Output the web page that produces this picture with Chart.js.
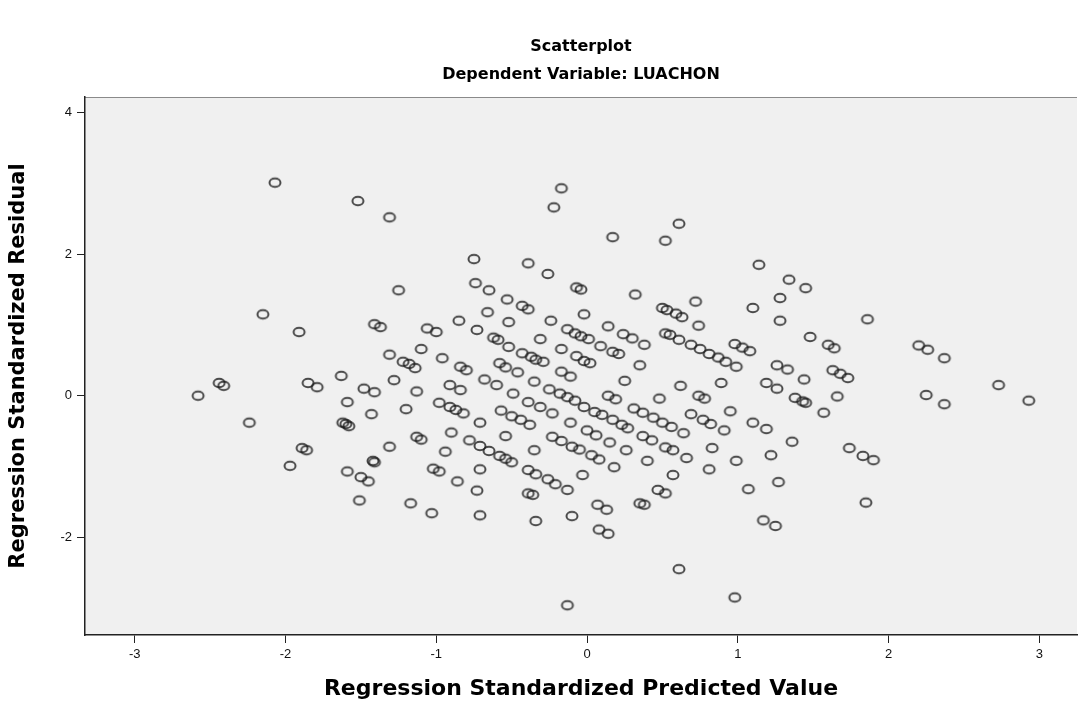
<!DOCTYPE html>
<html><head><meta charset="utf-8">
<script src="https://cdn.jsdelivr.net/npm/chart.js@4.4.1/dist/chart.umd.min.js"></script>
<style>html,body{margin:0;padding:0;background:#fff;}#c{display:block;}</style>
</head><body>
<canvas id="c" width="1083" height="702"></canvas>
<script>
const predicted = [
-2.07,-1.52,-1.31,-1.25,-2.15,-1.91,-1.41,-1.37,-1.31,-1.22,-1.18,-1.14,-1.10,-2.44,-2.41,-2.58,-2.24,-1.85,-1.79,-1.63,
-1.48,-1.41,-1.28,-1.13,-1.59,-1.20,-1.43,-1.62,-1.60,-1.58,-1.13,-1.10,-1.89,-1.86,-1.97,-1.31,-1.42,-1.41,-1.59,-1.50,
-1.45,-1.51,-1.17,-1.06,-1.00,-0.17,-0.22,0.17,0.61,0.52,-0.75,-0.39,-0.26,-0.74,-0.65,-0.07,-0.04,0.32,0.72,-0.53,
-0.43,-0.39,-0.66,-0.02,0.50,0.53,0.59,0.63,-0.85,-0.52,-0.24,0.74,-0.73,-0.13,-0.08,-0.04,0.01,0.14,0.24,0.30,
0.38,0.52,0.55,0.61,0.69,0.75,0.81,0.87,0.92,0.99,0.98,1.03,1.08,-0.62,-0.59,-0.52,-0.43,-0.37,-0.34,-0.29,
-0.17,-0.07,-0.02,0.02,-0.31,0.09,0.17,0.21,0.35,-0.96,-0.84,-0.80,-0.58,-0.54,-0.46,-0.68,-0.60,-0.35,-0.25,-0.18,
-0.13,-0.08,-0.17,-0.11,0.25,0.14,0.19,0.62,0.48,0.89,0.74,0.78,-0.91,-0.84,-0.98,-0.91,-0.87,-0.82,-0.71,-0.90,
-0.78,-0.71,-0.65,-0.58,-0.54,-0.50,-0.94,-1.02,-0.98,-0.71,-0.86,-0.73,-1.03,-0.71,-0.57,-0.50,-0.44,-0.38,-0.54,-0.35,
-0.39,-0.34,-0.26,-0.21,-0.13,-0.39,-0.36,-0.34,-0.10,-0.13,-0.39,-0.31,-0.23,-0.49,-0.23,-0.17,-0.11,-0.10,-0.05,-0.03,
-0.02,0.05,0.10,0.17,0.23,0.27,0.00,0.06,0.15,0.26,0.03,0.08,0.18,0.07,0.13,0.08,0.14,0.31,0.37,0.44,
0.50,0.56,0.64,0.37,0.43,0.52,0.57,0.66,0.40,0.57,0.47,0.52,0.35,0.38,0.69,0.77,0.82,0.91,0.95,0.83,
0.81,0.99,0.61,0.98,1.14,1.34,1.45,1.28,1.10,1.28,1.86,1.48,1.60,1.64,2.20,2.26,2.37,1.26,1.33,1.63,
1.68,1.73,1.44,1.66,1.19,1.26,1.38,1.43,1.45,1.57,1.10,1.19,1.36,1.22,1.74,1.83,1.90,1.27,1.07,1.85,
1.17,1.25,2.25,2.37,2.73,2.93
];
const residual = [
3.01,2.75,2.52,1.49,1.15,0.90,1.01,0.97,0.58,0.48,0.45,0.39,0.66,0.18,0.14,0.00,-0.38,0.18,0.12,0.28,
0.10,0.05,0.22,0.06,-0.09,-0.19,-0.26,-0.38,-0.40,-0.43,-0.58,-0.62,-0.74,-0.77,-0.99,-0.72,-0.92,-0.94,-1.07,-1.15,
-1.21,-1.48,-1.52,0.95,0.90,2.93,2.66,2.24,2.43,2.19,1.93,1.87,1.72,1.59,1.49,1.53,1.50,1.43,1.33,1.36,
1.27,1.22,1.18,1.15,1.24,1.21,1.16,1.11,1.06,1.04,1.06,0.99,0.93,0.94,0.88,0.84,0.80,0.98,0.87,0.81,
0.72,0.88,0.86,0.79,0.72,0.66,0.59,0.54,0.48,0.41,0.73,0.68,0.63,0.82,0.79,0.69,0.60,0.55,0.51,0.48,
0.66,0.56,0.49,0.46,0.80,0.70,0.62,0.59,0.43,0.53,0.41,0.36,0.46,0.40,0.33,0.23,0.15,0.20,0.09,0.03,
-0.02,-0.07,0.34,0.27,0.21,0.00,-0.05,0.14,-0.04,0.18,0.00,-0.04,0.15,0.08,-0.10,-0.16,-0.20,-0.25,-0.38,-0.52,
-0.63,-0.71,-0.78,-0.85,-0.89,-0.94,-0.79,-1.03,-1.07,-1.04,-1.21,-1.34,-1.66,-1.69,-0.21,-0.29,-0.34,-0.41,-0.57,-0.77,
-1.05,-1.11,-1.18,-1.25,-1.33,-1.38,-1.40,-1.77,-1.70,-2.96,-0.09,-0.16,-0.25,0.03,-0.58,-0.64,-0.38,-0.72,-0.76,-1.12,
-0.16,-0.23,-0.27,-0.34,-0.41,-0.46,-0.49,-0.56,-0.66,-0.77,-0.84,-0.90,-1.01,-1.54,-1.61,-1.89,-1.95,-0.18,-0.24,-0.31,
-0.38,-0.44,-0.53,-0.57,-0.63,-0.73,-0.77,-0.88,-0.92,-1.12,-1.33,-1.38,-1.52,-1.54,-0.26,-0.34,-0.40,-0.49,-0.22,-0.74,
-1.04,-0.92,-2.45,-2.85,1.85,1.64,1.52,1.38,1.24,1.06,1.08,0.83,0.72,0.67,0.71,0.65,0.53,0.43,0.37,0.36,
0.31,0.25,0.23,-0.01,0.18,0.10,-0.03,-0.08,-0.10,-0.24,-0.38,-0.47,-0.65,-0.84,-0.74,-0.85,-0.91,-1.22,-1.32,-1.51,
-1.76,-1.84,0.01,-0.12,0.15,-0.07
];
const xTicks = [-3, -2, -1, 0, 1, 2, 3];
const yTicks = [-2, 0, 2, 4];
const xRange = [-3.33, 3.25];
const yRange = [-3.38, 4.22];
const titleText = 'Scatterplot';
const subtitleText = 'Dependent Variable: LUACHON';
const xTitle = 'Regression Standardized Predicted Value';
const yTitle = 'Regression Standardized Residual';

const points = predicted.map((x, i) => ({x: x, y: residual[i]}));

function ringMarker() {
  const c = document.createElement('canvas');
  c.width = 16; c.height = 14;
  const g = c.getContext('2d');
  g.strokeStyle = 'rgba(25,25,25,0.78)';
  g.lineWidth = 2;
  g.beginPath();
  g.ellipse(8, 7, 5.5, 4.3, 0, 0, Math.PI * 2);
  g.stroke();
  return c;
}

const plotBg = {
  id: 'plotBg',
  beforeDraw(chart) {
    const a = chart.chartArea, ctx = chart.ctx;
    ctx.save();
    ctx.fillStyle = '#f0f0f0';
    ctx.fillRect(a.left, a.top, a.right - a.left, a.bottom - a.top);
    ctx.strokeStyle = '#8a8a8a';
    ctx.lineWidth = 1;
    ctx.beginPath();
    ctx.moveTo(a.left, a.top + 0.5);
    ctx.lineTo(a.right, a.top + 0.5);
    ctx.stroke();
    ctx.restore();
  }
};

const ring = ringMarker();
new Chart(document.getElementById('c'), {
  type: 'scatter',
  data: { datasets: [{ data: points, pointStyle: ring, pointRadius: 5, pointHoverRadius: 5 }] },
  options: {
    responsive: false, animation: false, devicePixelRatio: 1,
    layout: { padding: { left: 0, right: 5, top: 0, bottom: 0 } },
    plugins: {
      legend: { display: false }, tooltip: { enabled: false },
      title: { display: true, text: titleText, fullSize: false, color: '#000',
        font: { family: "'DejaVu Sans', sans-serif", size: 16, weight: 'bold', lineHeight: 1.2 },
        padding: { top: 37.4, bottom: 2 } },
      subtitle: { display: true, text: subtitleText, fullSize: false, color: '#000',
        font: { family: "'DejaVu Sans', sans-serif", size: 16, weight: 'bold', lineHeight: 1.2 },
        padding: { top: 6.8, bottom: 12.4 } }
    },
    scales: {
      x: {
        type: 'linear', min: xRange[0], max: xRange[1],
        afterBuildTicks: s => { s.ticks = xTicks.map(v => ({ value: v })); },
        afterFit: s => { s.height = 67; },
        grid: { drawOnChartArea: false, drawTicks: true, tickLength: 8, color: '#222', lineWidth: 1 },
        border: { display: true, color: '#222', width: 1.5 },
        ticks: { color: '#111', padding: 4, maxRotation: 0, font: { family: "'Liberation Sans', Arial, sans-serif", size: 13 } },
        title: { display: true, text: xTitle, color: '#000', padding: { top: 0, bottom: 0 },
          font: { family: "'DejaVu Sans', sans-serif", size: 22, weight: 'bold', lineHeight: 1.2 } }
      },
      y: {
        type: 'linear', min: yRange[0], max: yRange[1],
        afterBuildTicks: s => { s.ticks = yTicks.map(v => ({ value: v })); },
        afterFit: s => { s.width = 85; },
        grid: { drawOnChartArea: false, drawTicks: true, tickLength: 8, color: '#222', lineWidth: 1 },
        border: { display: true, color: '#222', width: 1.5 },
        ticks: { color: '#111', padding: 5, font: { family: "'Liberation Sans', Arial, sans-serif", size: 13 } },
        title: { display: true, text: yTitle, color: '#000', padding: { top: 6, bottom: 0 },
          font: { family: "'DejaVu Sans', sans-serif", size: 21, weight: 'bold', lineHeight: 1.2 } }
      }
    }
  },
  plugins: [plotBg]
});
</script>
</body></html>
